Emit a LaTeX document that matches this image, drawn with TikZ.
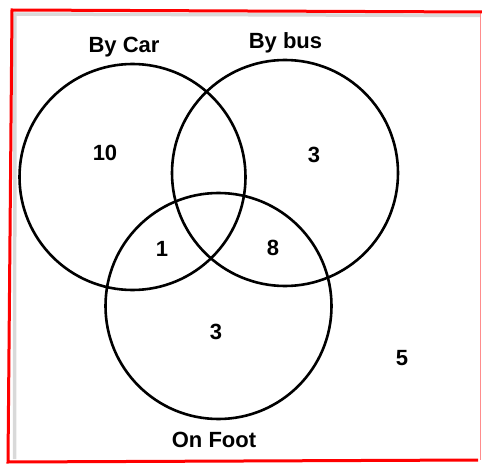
\documentclass[tikz,border=0pt]{standalone}
\usepackage{fontspec}
\setmainfont{Liberation Sans}
\begin{document}
\begin{tikzpicture}[x=1pt, y=-1pt,
    setring/.style={draw, circle, line width=2.6pt, minimum size=226pt, inner sep=0pt},
    lbl/.style={font=\fontsize{22}{26}\selectfont\bfseries, anchor=base, inner sep=0pt}]
  \useasboundingbox (0,0) rectangle (482,465);

  % Frame with its shadow
  \draw[gray!30, line width=3.5pt] (14.5,459) -- (15,14) -- (480,15.5);
  \draw[red!45, line width=1pt] (480.5,12) -- (480.5,460);
  \draw[red, line width=3pt] (478,460) -- (8,462) -- (12,10) -- (482,12);

  % The three sets
  \node[setring] (car) at (132.5,177) {};
  \node[setring] (bus) at (285,173) {};
  \node[setring] (foot) at (218.5,306) {};

  % Set names
  \node[lbl] (carname) at (124,53) {By Car};
  \node[lbl] (busname) at (285.5,49) {By bus};
  \node[lbl] (footname) at (214,447) {On Foot};

  % Counts
  \node[lbl] (onlycar) at (105,160.5) {10};
  \node[lbl] (onlybus) at (314,162.5) {3};
  \node[lbl] (carfoot) at (162,257) {1};
  \node[lbl] (busfoot) at (273,255) {8};
  \node[lbl] (onlyfoot) at (216,339) {3};
  \node[lbl] (none) at (402,365) {5};
\end{tikzpicture}
\end{document}
